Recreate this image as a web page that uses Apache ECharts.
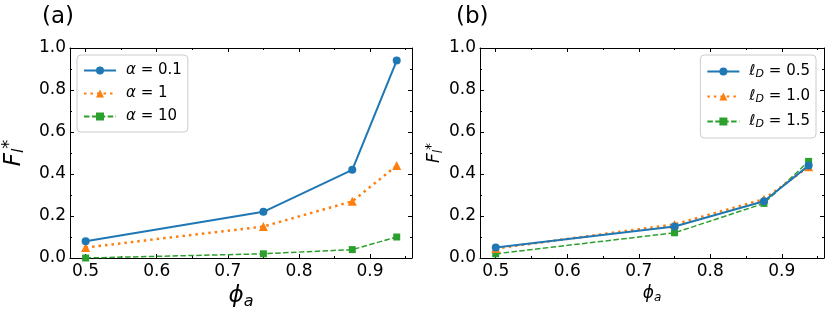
<!DOCTYPE html>
<html><head><meta charset="utf-8">
<script src="https://cdn.jsdelivr.net/npm/echarts@6/dist/echarts.min.js"></script>
<style>html,body{margin:0;padding:0;background:#fff}#c{width:830px;height:312px}</style>
</head><body><div id="c"></div>
<script>
const phiA = [0.5, 0.75, 0.875, 0.9375];
const alphaNames = ['α = 0.1', 'α = 1', 'α = 10'];
const alpha01 = [0.08, 0.22, 0.42, 0.94];
const alpha1 = [0.05, 0.15, 0.27, 0.44];
const alpha10 = [0.0, 0.02, 0.04, 0.10];
const ldNames = ['ℓD = 0.5', 'ℓD = 1.0', 'ℓD = 1.5'];
const ld05 = [0.05, 0.15, 0.27, 0.44];
const ld10 = [0.045, 0.16, 0.28, 0.435];
const ld15 = [0.02, 0.12, 0.26, 0.46];
const xMajor = [0.5, 0.6, 0.7, 0.8, 0.9];
const xMinor = [0.55, 0.65, 0.75, 0.85, 0.95];

const FONT = 'DejaVu Sans';
const C = ['#1f77b4', '#ff7f0e', '#2ca02c'];
const XMIN = 0.478, XMAX = 0.959;

function pair(arr) { return phiA.map((x, i) => [x, arr[i]]); }

const grids = [
  {left: 70, right: 418, top: 48, bottom: 54, outerBoundsMode: 'none', containLabel: false},
  {left: 480, right: 6, top: 48, bottom: 54, outerBoundsMode: 'none', containLabel: false}
];

const xAxes = [], yAxes = [];
grids.forEach((g, gi) => {
  const big = gi === 0;
  xAxes.push({type: 'value', gridIndex: gi, position: 'bottom', min: XMIN, max: XMAX,
    name: '{i|ϕ}{s|a}', nameLocation: 'middle', nameGap: big ? 25 : 21,
    nameTextStyle: {rich: {
      i: {fontFamily: FONT, fontStyle: 'italic', fontSize: big ? 23 : 17, color: '#000'},
      s: {fontFamily: FONT, fontStyle: 'italic', fontSize: big ? 16 : 12, color: '#000', padding: big ? [10,0,0,0] : [8,0,0,0]}
    }},
    axisLine: {show: true, onZero: false, lineStyle: {color: '#000', width: 1}},
    axisTick: {show: true, inside: true, length: 4, customValues: xMajor, lineStyle: {color: '#000'}},
    axisLabel: {show: true, customValues: xMajor, formatter: v => v.toFixed(1), fontFamily: FONT, fontSize: 17, color: '#000', margin: 5},
    splitLine: {show: false}});
  xAxes.push({type: 'value', gridIndex: gi, position: 'bottom', min: XMIN, max: XMAX,
    axisLine: {show: false, onZero: false},
    axisTick: {show: true, inside: true, length: 2, customValues: xMinor, lineStyle: {color: '#000'}},
    axisLabel: {show: false}, splitLine: {show: false}});
  xAxes.push({type: 'value', gridIndex: gi, position: 'top', min: XMIN, max: XMAX,
    axisLine: {show: true, onZero: false, lineStyle: {color: '#000', width: 1}},
    axisTick: {show: true, inside: true, length: 4, customValues: xMajor, lineStyle: {color: '#000'}},
    axisLabel: {show: false}, splitLine: {show: false}});
  xAxes.push({type: 'value', gridIndex: gi, position: 'top', min: XMIN, max: XMAX,
    axisLine: {show: false, onZero: false},
    axisTick: {show: true, inside: true, length: 2, customValues: xMinor, lineStyle: {color: '#000'}},
    axisLabel: {show: false}, splitLine: {show: false}});
  yAxes.push({type: 'value', gridIndex: gi, position: 'left', min: 0, max: 1, interval: 0.2,
    name: '{f|F}{sub|l}{sup|*}', nameLocation: 'middle', nameRotate: 90, nameGap: big ? 42 : 34,
    nameTextStyle: {rich: {
      f: {fontFamily: FONT, fontStyle: 'italic', fontSize: big ? 23 : 17, color: '#000'},
      sub: {fontFamily: FONT, fontStyle: 'italic', fontSize: big ? 16 : 12, color: '#000', padding: big ? [10,0,0,0] : [8,0,0,0]},
      sup: {fontFamily: FONT, fontSize: big ? 18 : 14, color: '#000', padding: big ? [0,0,10,0] : [0,0,8,0]}
    }},
    axisLine: {show: true, onZero: false, lineStyle: {color: '#000', width: 1}},
    axisTick: {show: true, inside: true, length: 4, lineStyle: {color: '#000'}},
    minorTick: {show: true, splitNumber: 2, length: 2, lineStyle: {color: '#000'}},
    axisLabel: {show: true, formatter: v => v.toFixed(1), fontFamily: FONT, fontSize: 17, color: '#000', margin: 4},
    splitLine: {show: false}, minorSplitLine: {show: false}});
  yAxes.push({type: 'value', gridIndex: gi, position: 'right', min: 0, max: 1, interval: 0.2,
    axisLine: {show: true, onZero: false, lineStyle: {color: '#000', width: 1}},
    axisTick: {show: true, inside: true, length: 4, lineStyle: {color: '#000'}},
    minorTick: {show: true, splitNumber: 2, length: 2, lineStyle: {color: '#000'}},
    axisLabel: {show: false}, splitLine: {show: false}, minorSplitLine: {show: false}});
});

const styles = [
  {symbol: 'circle', symbolSize: 8, lineStyle: {width: 2, type: 'solid'}},
  {symbol: 'triangle', symbolSize: 9, lineStyle: {width: 2.5, type: [2.5, 4]}},
  {symbol: 'rect', symbolSize: 7, lineStyle: {width: 1.5, type: [5.5, 2.4]}}
];

function mk(name, data, k, gi) {
  const s = styles[k];
  return {name, type: 'line', xAxisIndex: gi * 4, yAxisIndex: gi * 2, data: pair(data),
    symbol: s.symbol, symbolSize: s.symbolSize, showSymbol: true,
    lineStyle: Object.assign({color: C[k]}, s.lineStyle),
    itemStyle: {color: C[k]}, color: C[k], animation: false, z: 5 - k};
}

const series = [
  mk(alphaNames[0], alpha01, 0, 0), mk(alphaNames[1], alpha1, 1, 0), mk(alphaNames[2], alpha10, 2, 0),
  mk(ldNames[0], ld05, 0, 1), mk(ldNames[1], ld10, 1, 1), mk(ldNames[2], ld15, 2, 1)
];

const legendBase = {orient: 'vertical', itemWidth: 32, itemHeight: 10, itemGap: 8,
  padding: [8, 6, 8, 6], backgroundColor: 'rgba(255,255,255,0.8)', borderColor: '#cccccc', borderWidth: 1, borderRadius: 4,
  textStyle: {fontFamily: FONT, fontSize: 15, lineHeight: 14, color: '#000', padding: [0,0,0,5]}};

const legends = [
  Object.assign({}, legendBase, {left: 77, top: 55, data: alphaNames,
    formatter: n => '{i|α} = ' + n.split('= ')[1],
    textStyle: Object.assign({}, legendBase.textStyle, {rich: {i: {fontFamily: FONT, fontStyle: 'italic', fontSize: 15, lineHeight: 14}}})}),
  Object.assign({}, legendBase, {right: 14, top: 55, data: ldNames,
    formatter: n => '{l|ℓ}{d|D} = ' + n.split('= ')[1],
    textStyle: Object.assign({}, legendBase.textStyle, {rich: {
      l: {fontFamily: FONT, fontSize: 15, lineHeight: 14},
      d: {fontFamily: FONT, fontStyle: 'italic', fontSize: 11, lineHeight: 14, padding: [6,0,0,0]}}})})
];

const chart = echarts.init(document.getElementById('c'), null, {renderer: 'canvas'});
chart.setOption({
  animation: false,
  backgroundColor: '#fff',
  grid: grids,
  xAxis: xAxes,
  yAxis: yAxes,
  legend: legends,
  series: series,
  graphic: [
    {type: 'text', left: 42, top: 6, style: {text: '(a)', font: '23px "DejaVu Sans"', fill: '#000'}},
    {type: 'text', left: 456, top: 6, style: {text: '(b)', font: '23px "DejaVu Sans"', fill: '#000'}}
  ]
});
</script></body></html>
